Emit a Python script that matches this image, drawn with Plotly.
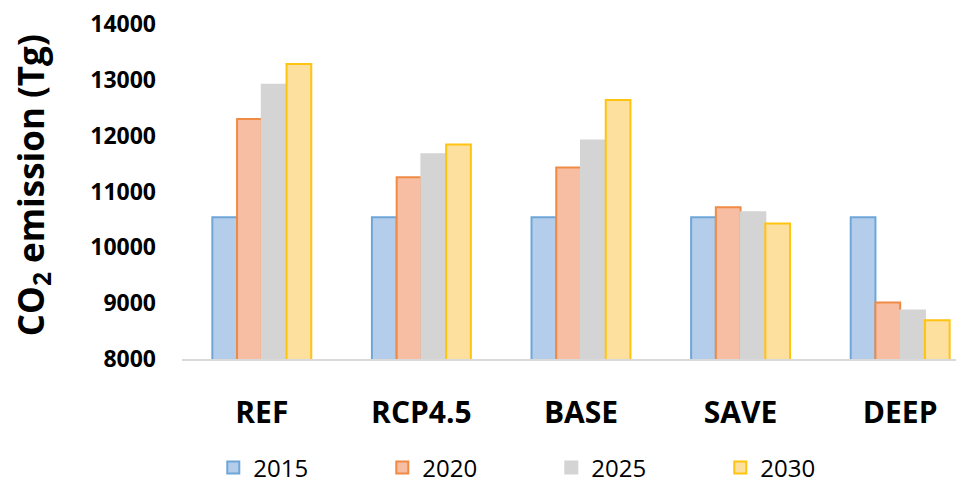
import plotly.graph_objects as go

categories = ["REF", "RCP4.5", "BASE", "SAVE", "DEEP"]
years = ["2015", "2020", "2025", "2030"]
v2015 = [10540, 10540, 10540, 10540, 10540]
v2020 = [12300, 11255, 11430, 10720, 9010]
v2025 = [12910, 11665, 11915, 10630, 8870]
v2030 = [13285, 11840, 12640, 10425, 8695]
y_ticks = [8000, 9000, 10000, 11000, 12000, 13000, 14000]
y_ticktext = [str(v) for v in y_ticks]

series = [v2015, v2020, v2025, v2030]
fills = ["#B3CDEA", "#F8BEA3", "#D4D4D4", "#FDDF9E"]
borders = ["#6FA6D8", "#EF8B45", "#D4D4D4", "#FFC410"]

fig = go.Figure()
for name, vals, fc, bc in zip(years, series, fills, borders):
    fig.add_trace(go.Bar(
        x=categories, y=vals, name=name,
        marker=dict(color=fc, line=dict(color=bc, width=2)),
    ))

fig.update_layout(
    width=964, height=483,
    margin=dict(l=174, r=0, t=16, b=132),
    paper_bgcolor="white", plot_bgcolor="white",
    barmode="group", bargap=0.38, bargroupgap=0,
    font=dict(family="Open Sans, Liberation Sans, sans-serif", color="black"),
    showlegend=True,
    legend=dict(orientation="h", x=0.0396, xanchor="left", y=-0.325, yanchor="middle",
                font=dict(size=24), entrywidth=124, entrywidthmode="pixels",
                itemsizing="constant", traceorder="normal"),
    annotations=[dict(
        text="CO<sub>2</sub> emission (Tg)", textangle=-90,
        xref="paper", yref="paper", x=-0.1893, y=0.52,
        xanchor="center", yanchor="middle", showarrow=False,
        font=dict(size=35, family="Open Sans, sans-serif", weight="bold"),
    )],
)
fig.update_xaxes(
    range=[-0.5, 4.45], showline=True, linecolor="#D9D9D9", linewidth=2,
    ticks="", automargin=False,
    tickfont=dict(size=30, family="Open Sans, sans-serif", weight="bold"),
    ticklabelstandoff=26,
)
fig.update_yaxes(
    range=[8000, 14000], tickvals=y_ticks, ticktext=y_ticktext,
    showgrid=False, zeroline=False, automargin=False,
    showline=False, ticks="", ticklabeloverflow="allow",
    tickfont=dict(size=23, family="Open Sans, sans-serif", weight="bold"),
    ticklabelstandoff=25,
)
fig.write_html("out.html")
